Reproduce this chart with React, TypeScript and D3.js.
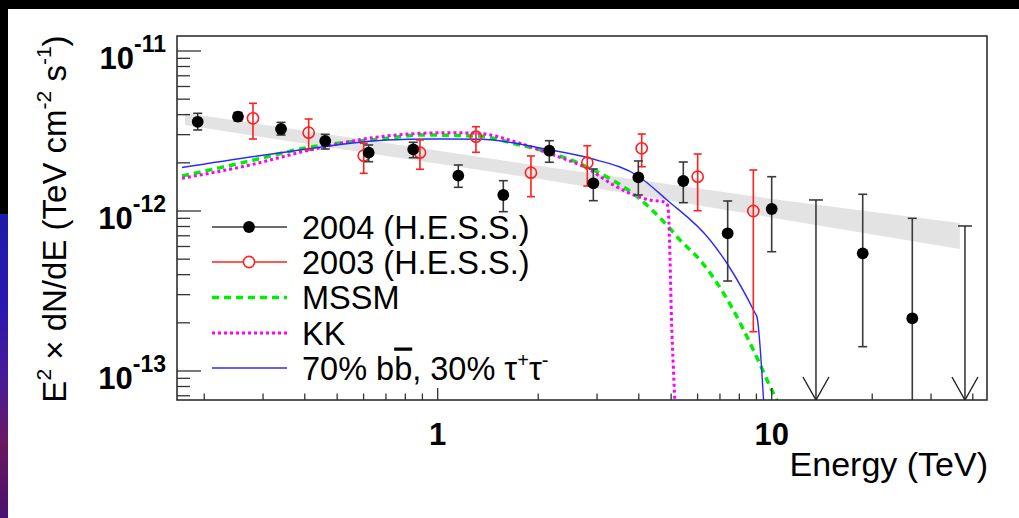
import React from 'react';
import * as d3 from 'd3';

const W = 1019;
const H = 518;

// Axis domains (TeV, TeV cm^-2 s^-1)
const xDomain = [0.16577, 44.12];
const yDomain = [6.587e-14, 1.2409e-11];

// HESS 2004 points
const e2004 = [0.1912, 0.2524, 0.3396, 0.4606, 0.6215, 0.8449, 1.1527, 1.572, 2.159, 2.924, 3.988, 5.437, 7.383, 10.0, 18.73, 26.36];
const f2004 = [3.61e-12, 3.885e-12, 3.255e-12, 2.74e-12, 2.314e-12, 2.43e-12, 1.662e-12, 1.259e-12, 2.381e-12, 1.49e-12, 1.624e-12, 1.54e-12, 7.256e-13, 1.029e-12, 5.44e-13, 2.135e-13];
const hi2004 = [4.08e-12, 4.13e-12, 3.58e-12, 3.015e-12, 2.585e-12, 2.688e-12, 1.939e-12, 1.547e-12, 2.75e-12, 1.83e-12, 2.054e-12, 2.024e-12, 1.155e-12, 1.638e-12, 1.272e-12, 9.0e-13];
const lo2004 = [3.21e-12, 3.65e-12, 2.985e-12, 2.44e-12, 2.033e-12, 2.153e-12, 1.406e-12, 9.9e-13, 2.016e-12, 1.16e-12, 1.259e-12, 1.127e-12, 3.65e-13, 5.566e-13, 1.419e-13, 1e-15];

// HESS 2004 upper limits
const ulE = [13.57, 37.9];
const ulVal = [1.172e-12, 8.06e-13];

// HESS 2003 points
const e2003 = [0.2799, 0.4109, 0.6005, 0.885, 1.302, 1.902, 2.805, 4.082, 6.003, 8.811];
const f2003 = [3.797e-12, 3.086e-12, 2.216e-12, 2.314e-12, 2.913e-12, 1.735e-12, 2.004e-12, 2.465e-12, 1.638e-12, 1.0e-12];
const hi2003 = [4.71e-12, 3.758e-12, 2.649e-12, 2.78e-12, 3.363e-12, 2.207e-12, 2.559e-12, 3.028e-12, 2.271e-12, 1.804e-12];
const lo2003 = [2.818e-12, 2.405e-12, 1.72e-12, 1.823e-12, 2.327e-12, 1.229e-12, 1.433e-12, 1.891e-12, 1.004e-12, 1.76e-13];

// Power-law fit band
const bandE = [0.1751, 0.51, 2.025, 10.59, 36.6];
const bandHi = [4.10e-12, 2.94e-12, 1.91e-12, 1.172e-12, 8.41e-13];
const bandLo = [3.45e-12, 2.44e-12, 1.585e-12, 8.91e-13, 5.79e-13];

// Model curves
const mssmE = [0.1716, 0.2742, 0.397, 0.705, 0.885, 1.309, 1.764, 2.121, 2.857, 4.031, 4.85, 5.314, 6.1, 7.674, 8.811, 10.11, 10.8];
const mssmF = [1.655e-12, 2.054e-12, 2.465e-12, 2.847e-12, 2.985e-12, 2.942e-12, 2.585e-12, 2.348e-12, 1.848e-12, 1.189e-12, 8.18e-13, 6.59e-13, 4.94e-13, 2.405e-13, 1.353e-13, 7.256e-14, 5.5e-14];

const kkE = [0.1716, 0.2742, 0.4146, 0.6718, 1.064, 1.309, 1.764, 2.121, 2.857, 3.356, 3.988, 4.322, 4.736, 4.876, 4.91, 4.962, 5.012, 5.075, 5.16];
const kkF = [1.601e-12, 1.939e-12, 2.405e-12, 2.913e-12, 3.086e-12, 3.06e-12, 2.649e-12, 2.314e-12, 1.804e-12, 1.454e-12, 1.229e-12, 1.172e-12, 1.143e-12, 1.09e-12, 9.72e-13, 4.94e-13, 2.084e-13, 1.064e-13, 5.0e-14];

const bbE = [0.1716, 0.3303, 0.705, 0.9482, 1.339, 2.125, 2.857, 3.979, 4.859, 6.537, 7.401, 8.913, 9.036, 9.5];
const bbF = [1.87e-12, 2.294e-12, 2.78e-12, 2.818e-12, 2.806e-12, 2.43e-12, 2.135e-12, 1.655e-12, 1.172e-12, 6.59e-13, 4.597e-13, 2.305e-13, 2.175e-13, 5.5e-14];

const xTickLabels = [1, 10];
const yTickExps = [-11, -12, -13];

const legendLabels = ['2004 (H.E.S.S.)', '2003 (H.E.S.S.)', 'MSSM', 'KK'];

const FONT = '"Liberation Sans", Arial, Helvetica, sans-serif';

export default function App() {
  const left = 177, right = 987, top = 36, bottom = 400;
  const x = d3.scaleLog().domain(xDomain).range([left, right]);
  const y = d3.scaleLog().domain(yDomain).range([bottom, top]);

  const line = d3.line<[number, number]>()
    .x(d => x(d[0]))
    .y(d => y(d[1]))
    .curve(d3.curveMonotoneX);

  const zip = (a: number[], b: number[]) => a.map((v, i) => [v, b[i]] as [number, number]);

  const area = d3.area<number>()
    .x(i => x(bandE[i]))
    .y0(i => y(bandLo[i]))
    .y1(i => y(bandHi[i]));

  // ticks
  const xTicks: { v: number; major: boolean }[] = [];
  for (let k = -1; k <= 1; k++) for (let d = 1; d <= 9; d++) {
    const v = d * Math.pow(10, k);
    if (v >= xDomain[0] && v <= xDomain[1]) xTicks.push({ v, major: d === 1 });
  }
  const yTicks: { v: number; major: boolean }[] = [];
  for (let k = -14; k <= -11; k++) for (let d = 1; d <= 9; d++) {
    const v = d * Math.pow(10, k);
    if (v >= yDomain[0] && v <= yDomain[1]) yTicks.push({ v, major: d === 1 });
  }

  const barColor = '#3a3a3a';
  const redColor = '#ff2020';
  const legY = [227, 262, 297.5, 333, 368];

  return (
    <svg width={W} height={H} style={{ position: 'absolute', left: 0, top: 0, background: '#fff' }} fontFamily={FONT}>
      <defs>
        <clipPath id="plot">
          <rect x={left} y={top} width={right - left} height={bottom - top} />
        </clipPath>
        <linearGradient id="strip" x1="0" y1="0" x2="0" y2="1">
          <stop offset="0" stopColor="#1c1ca8" />
          <stop offset="0.3" stopColor="#2a18b0" />
          <stop offset="0.55" stopColor="#4a1a98" />
          <stop offset="0.75" stopColor="#6a1860" />
          <stop offset="1" stopColor="#4a1070" />
        </linearGradient>
      </defs>
      <rect x={0} y={0} width={W} height={H} fill="#fff" />
      {/* outer dark borders */}
      <rect x={0} y={0} width={W} height={9} fill="#000" />
      <rect x={0} y={0} width={8} height={214} fill="#000" />
      <rect x={0} y={214} width={8} height={H - 214} fill="url(#strip)" />

      <g clipPath="url(#plot)">
        <path d={area(d3.range(bandE.length)) || ''} fill="#e3e3e3" />
        <path d={line(zip(mssmE, mssmF)) || ''} fill="none" stroke="#00ee00" strokeWidth={3.5} strokeDasharray="7,5" />
        <path d={line(zip(kkE, kkF)) || ''} fill="none" stroke="#ff00ff" strokeWidth={3} strokeDasharray="3,3" />
        <path d={line(zip(bbE, bbF)) || ''} fill="none" stroke="#2a2aff" strokeWidth={1.4} />

        {/* 2003 */}
        {e2003.map((e, i) => {
          const cx = x(e);
          return (
            <g key={'r' + i} stroke={redColor} strokeWidth={1.6} fill="none">
              <line x1={cx} x2={cx} y1={y(hi2003[i])} y2={y(lo2003[i])} />
              <line x1={cx - 4} x2={cx + 4} y1={y(hi2003[i])} y2={y(hi2003[i])} />
              <line x1={cx - 4} x2={cx + 4} y1={y(lo2003[i])} y2={y(lo2003[i])} />
              <circle cx={cx} cy={y(f2003[i])} r={5.6} />
            </g>
          );
        })}

        {/* 2004 */}
        {e2004.map((e, i) => {
          const cx = x(e);
          const lo = lo2004[i];
          const yl = lo < yDomain[0] ? bottom + 2 : y(lo);
          return (
            <g key={'b' + i}>
              <line x1={cx} x2={cx} y1={y(hi2004[i])} y2={yl} stroke={barColor} strokeWidth={1.6} />
              <line x1={cx - 4.5} x2={cx + 4.5} y1={y(hi2004[i])} y2={y(hi2004[i])} stroke={barColor} strokeWidth={1.6} />
              {lo >= yDomain[0] && (
                <line x1={cx - 4.5} x2={cx + 4.5} y1={yl} y2={yl} stroke={barColor} strokeWidth={1.6} />
              )}
              <circle cx={cx} cy={y(f2004[i])} r={5.9} fill="#000" />
            </g>
          );
        })}

        {/* upper limits */}
        {ulE.map((e, i) => {
          const cx = x(e);
          const yt = y(ulVal[i]);
          return (
            <g key={'u' + i} stroke="#222" strokeWidth={1.4} fill="none">
              <line x1={cx} x2={cx} y1={yt} y2={bottom} />
              <line x1={cx - 7} x2={cx + 7} y1={yt} y2={yt} />
              <polyline points={`${cx - 13},${bottom - 23} ${cx},${bottom} ${cx + 13},${bottom - 23}`} />
            </g>
          );
        })}
      </g>

      {/* frame */}
      <rect x={left} y={top} width={right - left} height={bottom - top} fill="none" stroke="#222" strokeWidth={1.5} />

      {/* x ticks */}
      {xTicks.map((t, i) => (
        <line key={'xt' + i} x1={x(t.v)} x2={x(t.v)} y1={bottom} y2={bottom - (t.major ? 12 : 6.5)} stroke="#333" strokeWidth={1.3} />
      ))}
      {xTickLabels.map(v => (
        <text key={'xl' + v} x={x(v)} y={445} textAnchor="middle" fontSize={31} fontWeight="bold" fill="#000">{v}</text>
      ))}

      {/* y ticks */}
      {yTicks.map((t, i) => (
        <line key={'yt' + i} x1={left} x2={left + (t.major ? 24 : 13)} y1={y(t.v)} y2={y(t.v)} stroke="#333" strokeWidth={1.3} />
      ))}
      {yTickExps.map(k => {
        const ty = y(Math.pow(10, k));
        return (
          <text key={'yl' + k} x={166} y={ty + 18.5} textAnchor="end" fontWeight="bold" fill="#000">
            <tspan fontSize={31}>10</tspan>
            <tspan fontSize={23} dy={-17}>{String(k)}</tspan>
          </text>
        );
      })}

      {/* axis titles */}
      <text x={988} y={476} textAnchor="end" fontSize={34} fill="#000">Energy (TeV)</text>
      <text transform="translate(66,219) rotate(-90)" textAnchor="middle" fontSize={33} fill="#000">
        <tspan>E</tspan>
        <tspan fontSize={21} dy={-15}>2</tspan>
        <tspan dy={15}> × dN/dE (TeV cm</tspan>
        <tspan fontSize={21} dy={-15}>-2</tspan>
        <tspan dy={15}> s</tspan>
        <tspan fontSize={21} dy={-15}>-1</tspan>
        <tspan dy={15}>)</tspan>
      </text>

      {/* legend */}
      <g>
        <line x1={212} x2={287} y1={legY[0]} y2={legY[0]} stroke={barColor} strokeWidth={1.6} />
        <circle cx={249} cy={legY[0]} r={5.9} fill="#000" />
        <line x1={212} x2={287} y1={legY[1]} y2={legY[1]} stroke={redColor} strokeWidth={1.6} />
        <circle cx={249} cy={legY[1]} r={5.6} fill="#fff" stroke={redColor} strokeWidth={1.6} />
        <line x1={212} x2={287} y1={legY[2]} y2={legY[2]} stroke="#00ee00" strokeWidth={3.5} strokeDasharray="7,5" />
        <line x1={212} x2={287} y1={legY[3]} y2={legY[3]} stroke="#ff00ff" strokeWidth={3} strokeDasharray="3,3" />
        <line x1={212} x2={287} y1={legY[4]} y2={legY[4]} stroke="#2a2aff" strokeWidth={1.4} />
        {legendLabels.map((s, i) => (
          <text key={'lg' + i} x={302} y={legY[i] + 11.5} fontSize={32.5} fill="#000">{s}</text>
        ))}
        <text x={302} y={legY[4] + 11.5} fontSize={32.5} fill="#000">
          <tspan>70% b</tspan>
          <tspan textDecoration="overline" style={{ textDecoration: 'overline' }}>b</tspan>
          <tspan>, 30% τ</tspan>
          <tspan fontSize={20} dy={-13}>+</tspan>
          <tspan dy={13}>τ</tspan>
          <tspan fontSize={20} dy={-13}>-</tspan>
        </text>
      </g>
    </svg>
  );
}
